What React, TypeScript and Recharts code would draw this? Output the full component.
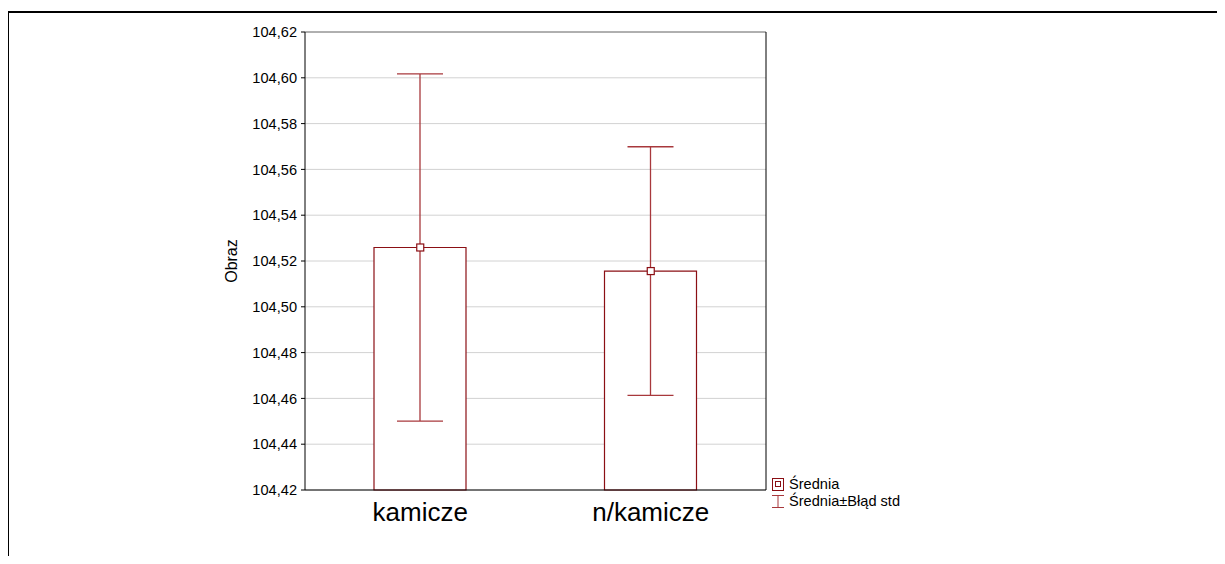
import {
  Bar,
  CartesianGrid,
  ComposedChart,
  ErrorBar,
  Scatter,
  XAxis,
  YAxis,
} from "recharts";

const categories = ["kamicze", "n/kamicze"];
const means = [104.5259, 104.5156];
const stdErrors = [0.0758, 0.0543];
const yTicks = [
  104.42, 104.44, 104.46, 104.48, 104.5, 104.52, 104.54, 104.56, 104.58,
  104.6, 104.62,
];

const data = categories.map((name, i) => ({
  name,
  mean: means[i],
  se: stdErrors[i],
}));

const RED = "#8b0f14";
const WHISKER = "#a8383c";
const FONT = "'Liberation Sans', Arial, sans-serif";

const fmt = (v: number) => v.toFixed(2).replace(".", ",");

function MeanMarker(props: any) {
  const { cx, cy } = props;
  if (cx == null || cy == null) return null;
  return (
    <rect
      x={cx - 3.5}
      y={cy - 3.5}
      width={7}
      height={7}
      fill="#fff"
      stroke={RED}
      strokeWidth={1.2}
    />
  );
}

const NoShape = () => <g />;

function LegendBox() {
  return (
    <div style={{ fontFamily: FONT, fontSize: 14.6, color: "#000", lineHeight: "17px" }}>
      <div style={{ display: "flex", alignItems: "center" }}>
        <svg width={13} height={13} style={{ marginRight: 4 }}>
          <rect x={0.5} y={0.5} width={11} height={12} fill="#fff" stroke={RED} />
          <rect x={3.5} y={3.5} width={5} height={5} fill="#fff" stroke={RED} />
        </svg>
        <span>Średnia</span>
      </div>
      <div style={{ display: "flex", alignItems: "center" }}>
        <svg width={13} height={13} style={{ marginRight: 4 }}>
          <line x1={0} y1={0.5} x2={12} y2={0.5} stroke={WHISKER} />
          <line x1={6} y1={0.5} x2={6} y2={12.5} stroke={WHISKER} />
          <line x1={0} y1={12.5} x2={12} y2={12.5} stroke={WHISKER} />
        </svg>
        <span>Średnia±Błąd std</span>
      </div>
    </div>
  );
}

export default function App() {
  return (
    <div style={{ position: "relative", width: 1217, height: 548, fontFamily: FONT }}>
      <div
        style={{
          position: "absolute",
          left: -1,
          top: 3,
          width: 1230,
          height: 560,
          borderTop: "2px solid #000",
          borderLeft: "2px solid #000",
        }}
      />
      <div style={{ position: "absolute", left: 0, top: 0 }}>
        <ComposedChart
          width={1000}
          height={540}
          data={data}
          margin={{ top: 23, right: 242, bottom: 18, left: 217 }}
          style={{ fontFamily: FONT }}
        >
          <CartesianGrid vertical={false} stroke="#d2d2d2" />
          <XAxis
            dataKey="name"
            tickLine={false}
            axisLine={{ stroke: "#000" }}
            tick={{ fontSize: 26, fill: "#000" }}
            tickSize={0}
            tickMargin={13}
            height={40}
          />
          <XAxis
            xAxisId="top"
            dataKey="name"
            orientation="top"
            tick={false}
            tickLine={false}
            axisLine={{ stroke: "#777" }}
            height={1}
          />
          <YAxis
            type="number"
            domain={[104.42, 104.62]}
            ticks={yTicks}
            tickFormatter={fmt}
            tick={{ fontSize: 14.6, fill: "#000" }}
            tickSize={4}
            tickMargin={4}
            axisLine={{ stroke: "#000" }}
            tickLine={{ stroke: "#000" }}
            width={80}
            interval={0}
            label={{
              value: "Obraz",
              angle: -90,
              position: "insideLeft",
              offset: 6,
              style: { textAnchor: "middle", fontSize: 16, fill: "#000" },
            }}
          />
          <YAxis
            yAxisId="right"
            type="number"
            orientation="right"
            domain={[104.42, 104.62]}
            ticks={yTicks}
            tick={false}
            mirror
            tickSize={3}
            axisLine={{ stroke: "#000" }}
            tickLine={{ stroke: "#444" }}
            width={1}
            interval={0}
          />
          <Bar
            dataKey="mean"
            barSize={92}
            fill="#fff"
            stroke={RED}
            strokeWidth={1.2}
            isAnimationActive={false}
            legendType="none"
          >
            <ErrorBar
              dataKey="se"
              direction="y"
              width={23}
              stroke={WHISKER}
              strokeWidth={1.3}
            />
          </Bar>
          <Scatter
            dataKey="mean"
            shape={<MeanMarker />}
            isAnimationActive={false}
            legendType="none"
          />
          <Scatter
            dataKey="mean"
            xAxisId="top"
            yAxisId="right"
            shape={<NoShape />}
            isAnimationActive={false}
            legendType="none"
          />
        </ComposedChart>
      </div>
      <div style={{ position: "absolute", left: 764, top: 468 }}>
        <LegendBox />
      </div>
    </div>
  );
}
